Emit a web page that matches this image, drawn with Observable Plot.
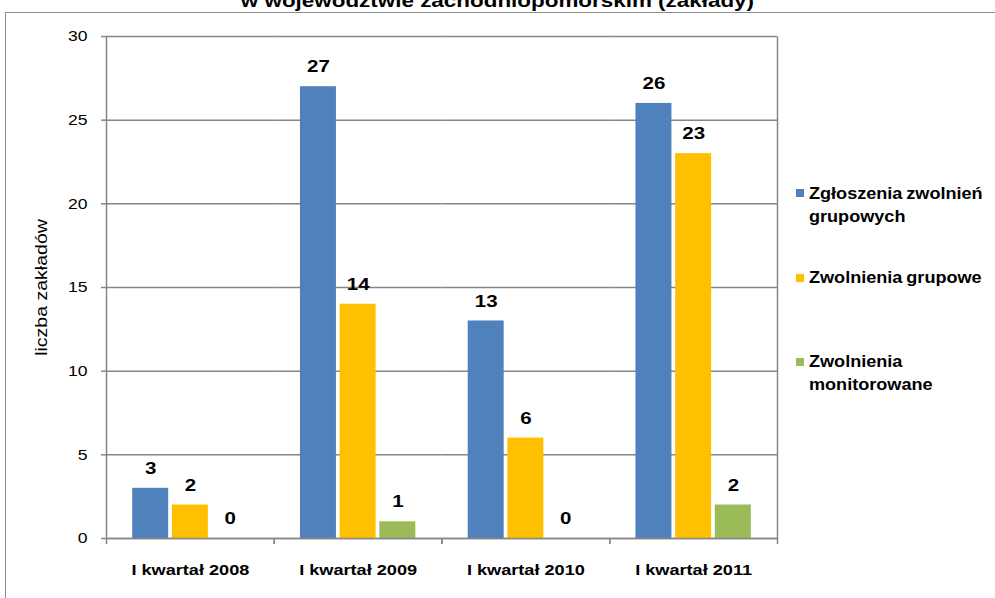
<!DOCTYPE html>
<html>
<head>
<meta charset="utf-8">
<script src="https://cdn.jsdelivr.net/npm/d3@7"></script>
<script src="https://cdn.jsdelivr.net/npm/@observablehq/plot@0.6"></script>
<style>
  html, body { margin: 0; padding: 0; background: #fff; }
  body { width: 995px; height: 598px; overflow: hidden; position: relative; font-family: "Liberation Sans", Arial, sans-serif; }
  #frame { position: absolute; left: 5px; top: 12px; width: 1200px; height: 800px; border-left: 1px solid #8c8c8c; border-top: 1px solid #8c8c8c; }
  #title { position: absolute; left: 0; width: 995px; top: -9px; text-align: center; font-weight: bold; font-size: 19px; line-height: 19px; color: #000; transform: scaleX(1.18); transform-origin: 498px 0; white-space: nowrap; }
  #chart { position: absolute; left: 0; top: 0; }
  #legend { position: absolute; left: 796px; top: 0; font-weight: bold; font-size: 16px; color: #000; }
  .item { position: absolute; left: 0; width: 199px; }
  .sw { position: absolute; left: 0; width: 8px; height: 8px; }
  .lt { position: absolute; left: 13px; line-height: 23px; white-space: nowrap; transform: scaleX(1.13); transform-origin: 0 0; word-spacing: -1px; }
</style>
</head>
<body>
<div id="frame"></div>
<div id="title">w województwie zachodniopomorskim (zakłady)</div>
<div id="chart"></div>
<div id="legend"></div>
<script>
const quarters = ["I kwartał 2008", "I kwartał 2009", "I kwartał 2010", "I kwartał 2011"];
const series = ["Zgłoszenia zwolnień grupowych", "Zwolnienia grupowe", "Zwolnienia monitorowane"];
const colors = ["#4F81BD", "#FFC000", "#9BBB59"];
const zgloszenia = [3, 27, 13, 26];
const zwolnienia = [2, 14, 6, 23];
const monitorowane = [0, 1, 0, 2];
const yTicks = [0, 5, 10, 15, 20, 25, 30];

const seriesValues = [zgloszenia, zwolnienia, monitorowane];
const data = [];
quarters.forEach((q, i) => series.forEach((s, j) => data.push({quarter: q, series: s, value: seriesValues[j][i]})));

const grey = "#868686";
const W = 995, H = 598, mL = 106, mR = 218, mT = 36, mB = 60;
const fw = (W - mL - mR) / quarters.length;   // one facet's width
const fh = H - mT - mB;                       // plot height
const half = fw / 2;
const chart = Plot.plot({
  width: W,
  height: H,
  marginLeft: mL,
  marginRight: mR,
  marginTop: mT,
  marginBottom: mB,
  style: {fontFamily: "'Liberation Sans', Arial, sans-serif", background: "transparent", overflow: "visible"},
  fx: {domain: quarters, padding: 0, round: false},
  x: {domain: series, paddingInner: 0.093, paddingOuter: 0.66, round: false},
  y: {domain: [0, 30]},
  color: {domain: series, range: colors},
  marks: [
    Plot.gridY(yTicks, {stroke: grey, strokeOpacity: 1, strokeWidth: 1.5}),
    // right border of the plot area (right edge of the last facet's frame only)
    Plot.frame({facetAnchor: "right", stroke: grey, strokeWidth: 1.5, strokeDasharray: `0,${fw},${fh},${fw + fh}`}),
    // y axis line (left edge of the first facet's frame only)
    Plot.frame({facetAnchor: "left", stroke: grey, strokeWidth: 1.5, strokeDasharray: `0,${2 * fw + fh},${fh}`}),
    Plot.barY(data, {fx: "quarter", x: "series", y: "value", fill: "series"}),
    Plot.ruleY([0], {stroke: grey, strokeWidth: 1.5}),
    Plot.axisY(yTicks, {anchor: "left", tickSize: 5, tickPadding: 14, stroke: grey, strokeWidth: 1.5, fontSize: 15, color: "#000",
      label: "liczba zakładów", labelAnchor: "center", labelOffset: 71, labelArrow: "none"}),
    Plot.axisFx({anchor: "bottom", tickSize: 0, tickPadding: 25, fontSize: 15.5, fontWeight: "bold", label: null}),
    Plot.axisFx({anchor: "bottom", tickSize: 6, dx: -half, tickFormat: () => "", stroke: grey, strokeWidth: 1.5, label: null}),
    Plot.axisFx({anchor: "bottom", tickSize: 6, dx: half, tickFormat: () => "", stroke: grey, strokeWidth: 1.5, label: null}),
    Plot.axisX({ticks: [], label: null, tickSize: 0}),
    Plot.text(data, {fx: "quarter", x: "series", y: "value", text: d => String(d.value), dy: -19.5, fontSize: 16, fontWeight: "bold", fill: "#000"})
  ]
});
document.getElementById("chart").appendChild(chart);

// widen glyphs along the text direction, as in the reference rendering
function stretch(selector, s, fontSize) {
  chart.querySelectorAll(selector).forEach(t => {
    if (fontSize) t.setAttribute("font-size", fontSize);
    const len = t.getComputedTextLength();
    if (len > 0) {
      t.setAttribute("textLength", (len * s).toFixed(2));
      t.setAttribute("lengthAdjust", "spacingAndGlyphs");
    }
  });
}
stretch('g[aria-label="y-axis tick label"] text', 1.17);
stretch('g[aria-label="y-axis label"] text', 1.22, 16);
stretch('g[aria-label="fx-axis tick label"] text', 1.17);
stretch('g[aria-label="text"] text', 1.28);

const legend = document.getElementById("legend");
const items = [
  {lines: ["Zgłoszenia zwolnień", "grupowych"], top: 181.5},
  {lines: ["Zwolnienia grupowe"], top: 266},
  {lines: ["Zwolnienia", "monitorowane"], top: 350}
];
items.forEach((it, i) => {
  const el = document.createElement("div");
  el.className = "item";
  el.style.top = it.top + "px";
  const sw = document.createElement("div");
  sw.className = "sw";
  sw.style.background = colors[i];
  sw.style.top = "7.5px";
  el.appendChild(sw);
  const t = document.createElement("div");
  t.className = "lt";
  t.innerHTML = it.lines.join("<br>");
  el.appendChild(t);
  legend.appendChild(el);
});
</script>
</body>
</html>
